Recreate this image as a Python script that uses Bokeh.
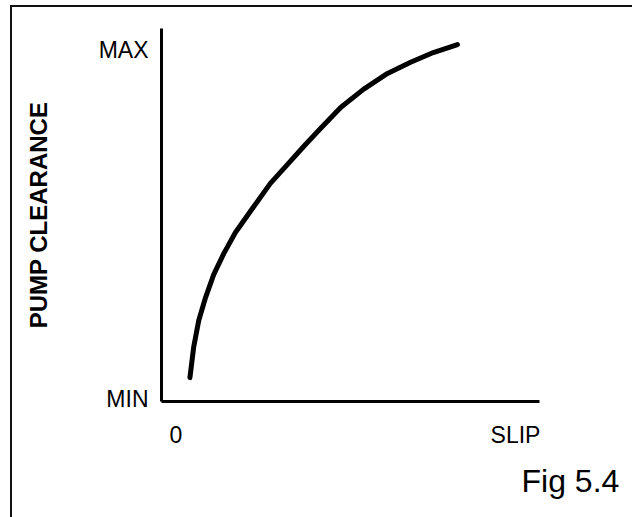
from bokeh.plotting import figure
from bokeh.models import Range1d, FixedTicker, Title, InlineStyleSheet
from bokeh.embed import file_html
from bokeh.resources import INLINE

# Curve (slip vs. pump clearance, MIN=0, MAX=1)
slip = [0.041, 0.052, 0.067, 0.087, 0.111, 0.141, 0.175, 0.225, 0.278,
        0.328, 0.376, 0.420, 0.485, 0.552, 0.623, 0.691, 0.758, 0.829]
clearance = [0.060, 0.147, 0.224, 0.290, 0.356, 0.417, 0.477, 0.546, 0.618,
             0.672, 0.724, 0.770, 0.836, 0.888, 0.934, 0.966, 0.994, 1.017]

x_tick_values = [0, 1]
x_tick_labels = ["0", "SLIP"]
y_tick_values = [0, 1]
y_tick_labels = ["MIN", "MAX"]

y_title = "PUMP CLEARANCE"
caption = "Fig 5.4"

FONT = "Liberation Sans"

frame_css = InlineStyleSheet(css="""
:host::after {
  content: "";
  position: absolute;
  left: 10px;
  top: 5px;
  right: 0;
  bottom: 0;
  border-left: 2.5px solid #111;
  border-top: 2.5px solid #111;
  pointer-events: none;
  z-index: 100;
}
""")

p = figure(width=632, height=517, output_backend="svg", toolbar_location=None,
           x_range=Range1d(-0.0427, 1.0707), y_range=Range1d(-0.0086, 1.063),
           min_border_left=161, min_border_right=93, min_border_top=28,
           min_border_bottom=116, stylesheets=[frame_css])
p.grid.visible = False
p.outline_line_color = None
p.background_fill_color = "white"
p.border_fill_color = "white"

for ax, vals, labs, stand in ((p.xaxis[0], x_tick_values, x_tick_labels, 20),
                              (p.yaxis[0], y_tick_values, y_tick_labels, 13)):
    ax.ticker = FixedTicker(ticks=vals)
    ax.major_label_overrides = {v: l for v, l in zip(vals, labs)}
    ax.major_tick_line_color = None
    ax.minor_tick_line_color = None
    ax.major_tick_out = 0
    ax.major_tick_in = 0
    ax.axis_line_width = 3
    ax.axis_line_color = "black"
    ax.major_label_text_font = FONT
    ax.major_label_text_font_size = "23px"
    ax.major_label_text_color = "black"
    ax.major_label_standoff = stand

yax = p.yaxis[0]
yax.axis_label = y_title
yax.axis_label_text_font = FONT
yax.axis_label_text_font_style = "bold"
yax.axis_label_text_font_size = "24px"
yax.axis_label_text_color = "black"
yax.axis_label_standoff = 44

p.line(slip, clearance, line_width=5, line_color="black",
       line_cap="round", line_join="round")

cap = Title(text=caption, align="left", offset=360, standoff=21,
            text_font=FONT, text_font_style="normal", text_font_size="32px",
            text_color="black")
p.add_layout(cap, "below")

open("out.html", "w").write(file_html(p, INLINE))
